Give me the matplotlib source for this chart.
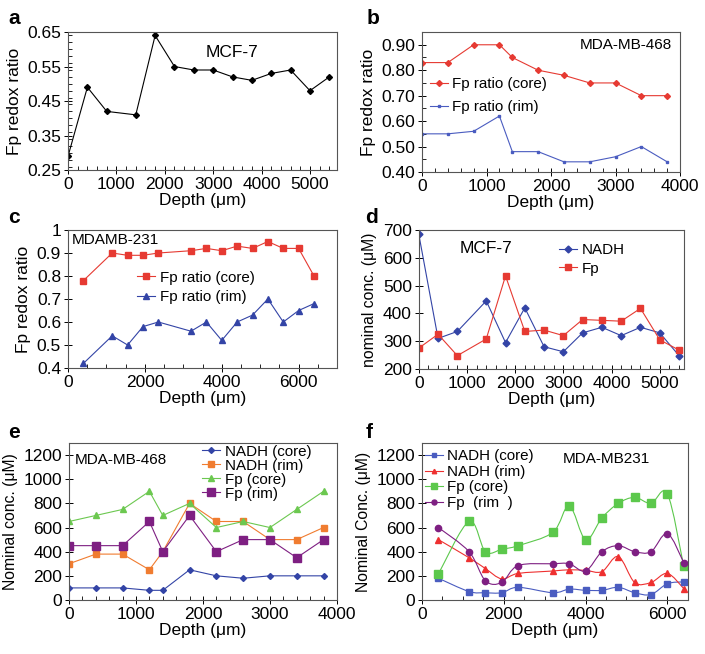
import matplotlib
matplotlib.use('Agg')
import matplotlib.pyplot as plt
from matplotlib.path import Path
from matplotlib.patches import PathPatch
from matplotlib.lines import Line2D
from matplotlib.ticker import MultipleLocator
import numpy as np

plt.rcParams['font.family'] = ['Liberation Sans', 'DejaVu Sans']
plt.rcParams['font.size'] = 12

# panel a - MCF-7 Fp redox ratio
depth_a = [0, 400, 800, 1400, 1800, 2200, 2600, 3000, 3400, 3800, 4200, 4600, 5000, 5400]
ratio_a = [0.29, 0.49, 0.42, 0.41, 0.64, 0.55, 0.54, 0.54, 0.52, 0.51, 0.53, 0.54, 0.48, 0.52]

# panel b - MDA-MB-468
depth_b = [0, 400, 800, 1200, 1400, 1800, 2200, 2600, 3000, 3400, 3800]
core_b = [0.83, 0.83, 0.90, 0.90, 0.85, 0.80, 0.78, 0.75, 0.75, 0.70, 0.70]
rim_b = [0.55, 0.55, 0.56, 0.62, 0.48, 0.48, 0.44, 0.44, 0.46, 0.50, 0.44]

# panel c - MDAMB-231
depth_c = [400, 1150, 1550, 1950, 2350, 3200, 3600, 4000, 4400, 4800, 5200, 5600, 6000, 6400]
core_c = [0.78, 0.90, 0.89, 0.89, 0.90, 0.91, 0.92, 0.91, 0.93, 0.92, 0.95, 0.92, 0.92, 0.80]
rim_c = [0.42, 0.54, 0.50, 0.58, 0.60, 0.56, 0.60, 0.52, 0.60, 0.63, 0.70, 0.60, 0.65, 0.68]

# panel d - MCF-7 nominal conc
depth_d = depth_a
nadh_d = [685, 310, 335, 445, 295, 420, 280, 262, 330, 350, 320, 350, 330, 248]
fp_d = [275, 325, 248, 308, 535, 335, 340, 320, 378, 375, 372, 418, 305, 268]

# panel e - MDA-MB-468 nominal conc
depth_e = depth_b
nadh_core_e = [100, 100, 100, 80, 80, 250, 200, 180, 200, 200, 200]
nadh_rim_e = [300, 380, 380, 250, 400, 800, 650, 650, 500, 500, 600]
fp_core_e = [650, 700, 750, 900, 700, 800, 600, 650, 600, 750, 900]
fp_rim_e = [450, 450, 450, 650, 400, 700, 400, 500, 500, 350, 500]

# panel f - MDA-MB231 nominal conc
depth_f = depth_c
nadh_core_f = [180, 70, 60, 60, 105, 60, 90, 80, 80, 105, 60, 45, 135, 150]
nadh_rim_f = [500, 350, 260, 175, 220, 240, 250, 245, 235, 360, 145, 145, 220, 95]
fp_core_f = [215, 650, 400, 420, 450, 560, 780, 500, 680, 800, 850, 800, 880, 280]
fp_rim_f = [600, 400, 160, 145, 285, 300, 300, 240, 400, 450, 400, 400, 550, 310]

um = 'Depth (\u03bcm)'
RED = '#e63a32'
BLUE = '#3344a6'
LBLUE = '#4a5cc0'
ORANGE = '#f07c30'
GREEN = '#6cc850'
PURPLE = '#7e1f82'
FS = 12.5    # tick / axis label size
CFS = 11.3   # conc. y label size
LFS = 10.9   # legend size
AFS = 11     # cell line annotation size


def style(ax, xmin, xmax, xmaj, xmin_step, ymin, ymax, yticks, ymin_step=None):
    ax.set_xlim(xmin, xmax)
    ax.set_ylim(ymin, ymax)
    ax.xaxis.set_major_locator(MultipleLocator(xmaj))
    ax.xaxis.set_minor_locator(MultipleLocator(xmin_step))
    ax.set_yticks(yticks)
    if ymin_step:
        ax.yaxis.set_minor_locator(MultipleLocator(ymin_step))
    ax.tick_params(which='major', direction='inout', length=6, width=0.7, labelsize=FS, pad=2)
    ax.tick_params(which='minor', direction='in', length=3, width=0.6)
    for s in ax.spines.values():
        s.set_color('#555555')
        s.set_linewidth(0.8)
    ax.set_xlabel(um, fontsize=FS, labelpad=1)


def smooth(ax, x, y, color, lw=0.8):
    # excel style smoothed line via bezier segments
    p = np.column_stack([x, y]).astype(float)
    n = len(p)
    verts = [p[0]]
    codes = [Path.MOVETO]
    for i in range(n - 1):
        p0 = p[i - 1] if i > 0 else p[i]
        p3 = p[i + 2] if i + 2 < n else p[i + 1]
        c1 = p[i] + (p[i + 1] - p0) / 6
        c2 = p[i + 1] - (p3 - p[i]) / 6
        verts += [c1, c2, p[i + 1]]
        codes += [Path.CURVE4] * 3
    ax.add_patch(PathPatch(Path(verts, codes), fill=False, edgecolor=color, lw=lw))


legkw = dict(frameon=False, fontsize=LFS, handlelength=1.2, handletextpad=0.3,
             borderpad=0, borderaxespad=0, loc='upper left')

fig = plt.figure(figsize=(7.05, 6.54), dpi=100)

# a
ax = fig.add_axes([0.0965, 0.740, 0.3816, 0.211])
ax.plot(depth_a, ratio_a, color='black', lw=0.8, marker='D', ms=3)
style(ax, 0, 5560, 1000, 200, 0.25, 0.65, [0.25, 0.35, 0.45, 0.55, 0.65], 0.02)
ax.set_yticklabels(['0.25', '0.35', '0.45', '0.55', '0.65'])
ax.set_ylabel('Fp redox ratio', fontsize=FS)
ax.text(0.51, 0.855, 'MCF-7', transform=ax.transAxes, fontsize=12.5, va='center')

# b
ax = fig.add_axes([0.5986, 0.737, 0.366, 0.214])
ax.plot(depth_b, core_b, color=RED, lw=0.8, marker='D', ms=3, label='Fp ratio (core)')
ax.plot(depth_b, rim_b, color=LBLUE, lw=0.8, marker='s', ms=2, label='Fp ratio (rim)')
style(ax, 0, 4000, 1000, 200, 0.40, 0.95, np.arange(0.4, 0.91, 0.1), 0.05)
ax.set_yticklabels(['0.40', '0.50', '0.60', '0.70', '0.80', '0.90'])
ax.set_ylabel('Fp redox ratio', fontsize=FS)
ax.text(0.97, 0.907, 'MDA-MB-468', transform=ax.transAxes, fontsize=AFS, va='center', ha='right')
ax.legend(bbox_to_anchor=(0.03, 0.68), labelspacing=0.6, **legkw)

# c
ax = fig.add_axes([0.0965, 0.4373, 0.3816, 0.211])
ax.plot(depth_c, core_c, color=RED, lw=0.8, marker='s', ms=4, label='Fp ratio (core)')
ax.plot(depth_c, rim_c, color=BLUE, lw=0.8, marker='^', ms=4, label='Fp ratio (rim)')
style(ax, 0, 7000, 2000, 500, 0.4, 1.0, [0.4, 0.5, 0.6, 0.7, 0.8, 0.9, 1.0])
ax.set_yticklabels(['0.4', '0.5', '0.6', '0.7', '0.8', '0.9', '1'])
ax.set_ylabel('Fp redox ratio', fontsize=FS)
ax.text(0.015, 0.93, 'MDAMB-231', transform=ax.transAxes, fontsize=AFS, va='center')
ax.legend(bbox_to_anchor=(0.256, 0.705), labelspacing=0.35, **legkw)

# d
ax = fig.add_axes([0.594, 0.4358, 0.376, 0.2125])
ax.plot(depth_d, nadh_d, color=BLUE, lw=0.8, marker='D', ms=3.5, label='NADH')
ax.plot(depth_d, fp_d, color=RED, lw=0.8, marker='s', ms=4.5, label='Fp')
style(ax, 0, 5500, 1000, 200, 200, 700, np.arange(200, 701, 100))
ax.set_ylabel('nominal conc. (\u03bcM)', fontsize=CFS)
ax.text(0.155, 0.87, 'MCF-7', transform=ax.transAxes, fontsize=12.5, va='center')
ax.legend(bbox_to_anchor=(0.53, 0.905), labelspacing=0.3, **legkw)

# e
ax = fig.add_axes([0.0979, 0.0826, 0.380, 0.240])
ax.plot(depth_e, nadh_core_e, color=BLUE, lw=0.8, marker='D', ms=3, label='NADH (core)')
ax.plot(depth_e, nadh_rim_e, color=ORANGE, lw=0.8, marker='s', ms=4, label='NADH (rim)')
ax.plot(depth_e, fp_core_e, color=GREEN, lw=0.8, marker='^', ms=4.5, label='Fp (core)')
ax.plot(depth_e, fp_rim_e, color=PURPLE, lw=0.8, marker='s', ms=6, label='Fp (rim)')
style(ax, 0, 4000, 1000, 200, 0, 1300, np.arange(0, 1201, 200))
ax.set_ylabel('Nominal conc. (\u03bcM)', fontsize=CFS)
ax.text(0.022, 0.89, 'MDA-MB-468', transform=ax.transAxes, fontsize=AFS, va='center')
ax.legend(bbox_to_anchor=(0.496, 0.99), labelspacing=0.0, **legkw)

# f
ax = fig.add_axes([0.5986, 0.0826, 0.377, 0.240])
series_f = [(nadh_core_f, LBLUE, 's', 4, 'NADH (core)'),
            (nadh_rim_f, '#ee3030', '^', 4, 'NADH (rim)'),
            (fp_core_f, '#5cc84c', 's', 6, 'Fp (core)'),
            (fp_rim_f, PURPLE, 'o', 4.5, 'Fp  (rim  )')]
handles = []
for vals, col, mk, ms, lab in series_f:
    smooth(ax, depth_f, vals, col)
    ax.plot(depth_f, vals, linestyle='none', marker=mk, ms=ms, color=col)
    handles.append(Line2D([], [], color=col, lw=0.8, marker=mk, ms=ms * 0.8, label=lab))
style(ax, 0, 6500, 2000, 500, 0, 1300, np.arange(0, 1201, 200))
ax.set_ylabel('Nominal Conc. (\u03bcM)', fontsize=CFS)
ax.text(0.53, 0.90, 'MDA-MB231', transform=ax.transAxes, fontsize=AFS, va='center')
ax.legend(handles=handles, bbox_to_anchor=(0.01, 0.96), labelspacing=0.1, **legkw)

# panel letters
for lab, x, y in [('a', 0.012, 0.972), ('b', 0.52, 0.972), ('c', 0.012, 0.667),
                  ('d', 0.518, 0.667), ('e', 0.012, 0.338), ('f', 0.518, 0.338)]:
    fig.text(x, y, lab, fontsize=15, fontweight='bold', va='center')

fig.savefig('out.png', dpi=100)
